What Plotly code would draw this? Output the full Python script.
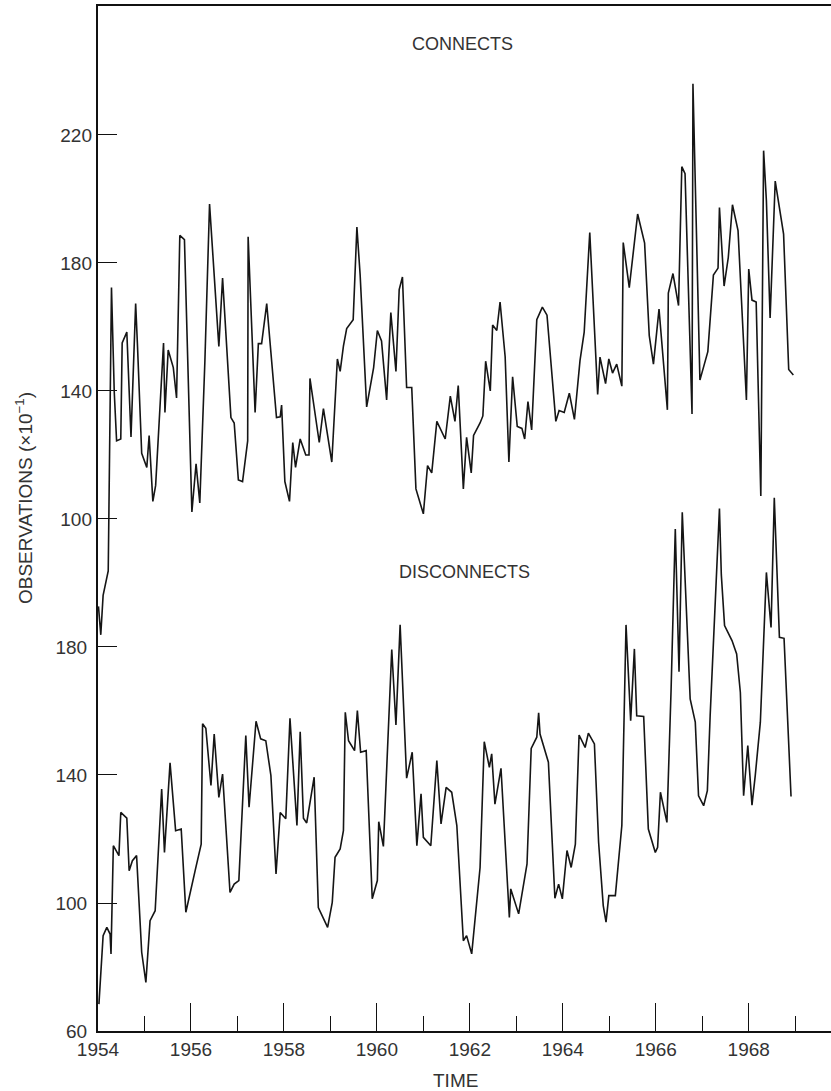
import plotly.graph_objects as go

# ---- data ----
conn_t = [1954.01, 1954.06, 1954.11, 1954.22, 1954.29, 1954.35, 1954.40, 1954.49, 1954.52, 1954.62,
          1954.71, 1954.81, 1954.85, 1954.94, 1955.05, 1955.10, 1955.18, 1955.24, 1955.41, 1955.44,
          1955.51, 1955.62, 1955.69, 1955.76, 1955.86, 1956.02, 1956.11, 1956.19, 1956.30, 1956.40,
          1956.60, 1956.68, 1956.86, 1956.93, 1957.02, 1957.11, 1957.22, 1957.23, 1957.38, 1957.45,
          1957.52, 1957.63, 1957.84, 1957.92, 1957.95, 1958.02, 1958.12, 1958.19, 1958.25, 1958.35,
          1958.47, 1958.54, 1958.56, 1958.76, 1958.85, 1959.03, 1959.15, 1959.21, 1959.28, 1959.35,
          1959.49, 1959.57, 1959.64, 1959.78, 1959.93, 1960.01, 1960.10, 1960.21, 1960.30, 1960.41,
          1960.48, 1960.55, 1960.64, 1960.75, 1960.84, 1961.00, 1961.09, 1961.18, 1961.29, 1961.47,
          1961.58, 1961.68, 1961.75, 1961.86, 1961.93, 1962.03, 1962.08, 1962.22, 1962.28, 1962.34,
          1962.44, 1962.49, 1962.58, 1962.65, 1962.76, 1962.84, 1962.92, 1963.02, 1963.12, 1963.18,
          1963.25, 1963.33, 1963.44, 1963.56, 1963.66, 1963.85, 1963.92, 1964.03, 1964.14, 1964.25,
          1964.37, 1964.46, 1964.58, 1964.66, 1964.75, 1964.80, 1964.92, 1964.99, 1965.07, 1965.16,
          1965.27, 1965.30, 1965.43, 1965.61, 1965.76, 1965.86, 1965.95, 1966.07, 1966.25, 1966.27,
          1966.37, 1966.49, 1966.56, 1966.63, 1966.78, 1966.80, 1966.95, 1967.12, 1967.24, 1967.34,
          1967.37, 1967.47, 1967.56, 1967.65, 1967.77, 1967.95, 1968.00, 1968.07, 1968.16, 1968.26,
          1968.32, 1968.38, 1968.46, 1968.57, 1968.75, 1968.86, 1968.96]
connects = [72.7, 63.8, 76.1, 83.8, 172.3, 139.5, 124.4, 125, 155, 158.4,
            125.6, 167.3, 154, 120.5, 116.1, 126.1, 105.5, 110.5, 155, 133.3,
            152.8, 147.3, 137.8, 188.6, 187.3, 102.2, 117.2, 105, 149.5, 198.4,
            153.9, 175.3, 131.7, 130, 112.2, 111.7, 124.4, 188.2, 133.3, 154.8,
            154.8, 167.3, 131.7, 131.9, 135.6, 111.7, 105.5, 123.9, 116.1, 125,
            120, 120, 143.9, 123.9, 134.5, 117.8, 150, 146.1, 154, 159.5,
            162.3, 191.2, 176.2, 135, 147.3, 158.9, 155.6, 137.2, 164.5, 146.1,
            171.7, 175.6, 141.1, 141.1, 109.4, 101.6, 116.7, 114.4, 130.5, 125,
            138.4, 130.5, 141.7, 109.4, 125.5, 114.4, 126.1, 130, 132.2, 149.3,
            140, 160.6, 158.9, 167.8, 150.6, 117.8, 144.4, 128.9, 128.3, 125,
            136.7, 127.8, 162.3, 166.2, 163.7, 130.5, 133.9, 133.3, 139.3, 131.1,
            149.5, 158.4, 189.5, 165, 138.9, 150.6, 142.3, 150, 145.6, 148.4,
            141.5, 186.4, 172.3, 195.3, 186.2, 157.3, 148.4, 165.6, 134.1, 170.6,
            176.7, 166.7, 210.1, 207.9, 132.8, 236, 143.4, 152.3, 176.2, 178.4,
            197.3, 172.8, 181.7, 198.2, 190.1, 137.2, 178.1, 168.4, 167.8, 107.2,
            215.1, 199.5, 162.8, 205.6, 189, 146.7, 145]

disc_t = [1954.02, 1954.11, 1954.19, 1954.26, 1954.28, 1954.33, 1954.45, 1954.49, 1954.62, 1954.67,
          1954.74, 1954.83, 1954.94, 1955.03, 1955.12, 1955.23, 1955.37, 1955.43, 1955.55, 1955.67,
          1955.79, 1955.89, 1956.09, 1956.22, 1956.25, 1956.32, 1956.43, 1956.50, 1956.60, 1956.68,
          1956.84, 1956.93, 1957.03, 1957.18, 1957.25, 1957.40, 1957.50, 1957.61, 1957.72, 1957.83,
          1957.92, 1958.04, 1958.13, 1958.28, 1958.35, 1958.42, 1958.49, 1958.65, 1958.74, 1958.94,
          1959.04, 1959.10, 1959.21, 1959.28, 1959.32, 1959.39, 1959.52, 1959.58, 1959.65, 1959.77,
          1959.90, 1960.01, 1960.04, 1960.14, 1960.32, 1960.41, 1960.50, 1960.64, 1960.76, 1960.86,
          1960.95, 1961.00, 1961.16, 1961.29, 1961.38, 1961.49, 1961.61, 1961.72, 1961.86, 1961.93,
          1962.04, 1962.22, 1962.31, 1962.42, 1962.47, 1962.54, 1962.67, 1962.85, 1962.88, 1963.05,
          1963.23, 1963.32, 1963.44, 1963.48, 1963.51, 1963.69, 1963.83, 1963.91, 1963.99, 1964.09,
          1964.18, 1964.27, 1964.35, 1964.48, 1964.55, 1964.68, 1964.77, 1964.87, 1964.93, 1964.99,
          1965.13, 1965.27, 1965.36, 1965.46, 1965.54, 1965.59, 1965.74, 1965.84, 1965.99, 1966.04,
          1966.10, 1966.24, 1966.33, 1966.42, 1966.50, 1966.57, 1966.74, 1966.85, 1966.92, 1967.03,
          1967.11, 1967.17, 1967.37, 1967.41, 1967.48, 1967.64, 1967.74, 1967.82, 1967.89, 1967.98,
          1968.07, 1968.14, 1968.25, 1968.38, 1968.48, 1968.55, 1968.66, 1968.76, 1968.91]
disconnects = [68.4, 89.8, 92.4, 90.3, 84.1, 117.9, 114.8, 128.3, 126.5, 110.1,
               113.2, 114.8, 84.6, 75.2, 94.5, 97.6, 135.6, 115.8, 143.8, 122.6,
               123.1, 97.1, 110.1, 118.4, 156, 154.6, 136.7, 152.8, 133, 140.3,
               103.3, 105.9, 107, 152.3, 129.9, 156.8, 151.3, 150.7, 139.8, 109.1,
               128.3, 126.3, 157.7, 124.2, 153.5, 126.5, 125, 139.3, 98.6, 92.4,
               100.2, 114.3, 116.9, 122.6, 159.6, 150.7, 147.6, 160.1, 147.1, 147.6,
               101.3, 107, 125.4, 117.7, 179.2, 155.6, 186.9, 139, 147.1, 117.9,
               134.1, 120.5, 117.9, 144.5, 124.7, 136.1, 134.6, 124.2, 88.2, 89.8,
               84.1, 111.1, 150.4, 142.4, 146.6, 130.9, 142.1, 95.5, 104.4, 96.6,
               112.2, 148.3, 151.8, 159.4, 152.8, 144, 101.5, 105.9, 101.3, 116.4,
               111.1, 118.4, 152.5, 148.6, 153.1, 149.7, 119, 99.2, 94, 102.3,
               102.3, 124.2, 186.9, 157, 179.4, 158.5, 158.3, 123.1, 115.8, 117.4,
               134.6, 125.2, 166.9, 216.9, 172.3, 222.1, 163.8, 156.5, 133.5, 130.4,
               135.1, 158.5, 223.3, 202.6, 186.7, 182, 177.8, 165.8, 133.5, 149.2,
               130.6, 139.8, 156.5, 203.3, 186.1, 226.6, 183, 182.7, 133.3]

year_ticks = [1954, 1956, 1958, 1960, 1962, 1964, 1966, 1968]
odd_years = [1955, 1957, 1959, 1961, 1963, 1965, 1967, 1969]
lower_ticks = [60, 100, 140, 180]
upper_ticks = [100, 140, 180, 220]

FONT = "Liberation Sans"
TXT = "#333333"
LINE = "#151515"

W, H = 831, 1091
L, R, T, B = 98, 0, 6, 60
pw, ph = W - L - R, H - T - B

fig = go.Figure()
fig.add_trace(go.Scatter(x=disc_t, y=disconnects, mode="lines",
                         line=dict(color=LINE, width=1.6), yaxis="y", showlegend=False))
fig.add_trace(go.Scatter(x=conn_t, y=connects, mode="lines",
                         line=dict(color=LINE, width=1.6), yaxis="y2", showlegend=False))

axis_common = dict(showgrid=False, zeroline=False, ticks="inside", tickcolor="#111",
                   tickwidth=1.4, tickfont=dict(family=FONT, size=19, color=TXT))


def px_ann(text, px, py, size, angle=0):
    return dict(text=text, x=(px - L) / pw, y=(H - B - py) / ph, xref="paper", yref="paper",
                xanchor="center", yanchor="middle", showarrow=False, textangle=angle,
                font=dict(family=FONT, size=size, color=TXT))


fig.update_layout(
    width=W, height=H,
    margin=dict(l=L, r=R, t=T, b=B),
    paper_bgcolor="white", plot_bgcolor="white",
    xaxis=dict(range=[1954, 1969.77], tickmode="array", tickvals=year_ticks,
               ticktext=[str(y) for y in year_ticks], ticklen=28,
               minor=dict(ticks="inside", tickmode="array", tickvals=odd_years,
                          ticklen=15, tickcolor="#111", tickwidth=1.4),
               showline=True, linecolor="#111", linewidth=2, mirror=True,
               **axis_common),
    yaxis=dict(range=[60, 380.3], tickmode="array", tickvals=lower_ticks, ticklen=19,
               showline=True, linecolor="#111", linewidth=2, mirror=False,
               ticklabelstandoff=5, **axis_common),
    yaxis2=dict(range=[-60, 260.3], tickmode="array", tickvals=upper_ticks, ticklen=19,
                overlaying="y", side="left", anchor="x", showline=False, mirror=False,
                ticklabelstandoff=5, **axis_common),
    annotations=[
        px_ann("CONNECTS", 462, 44, 18),
        px_ann("DISCONNECTS", 464, 572, 18),
        px_ann("TIME", 455, 1080, 19),
        px_ann("OBSERVATIONS (×10<sup>−1</sup>)", 24, 498, 19, -90),
    ],
)

fig.write_html("out.html", config={"displayModeBar": False},
               post_script="document.body.style.margin='0';document.body.style.overflow='hidden';")
